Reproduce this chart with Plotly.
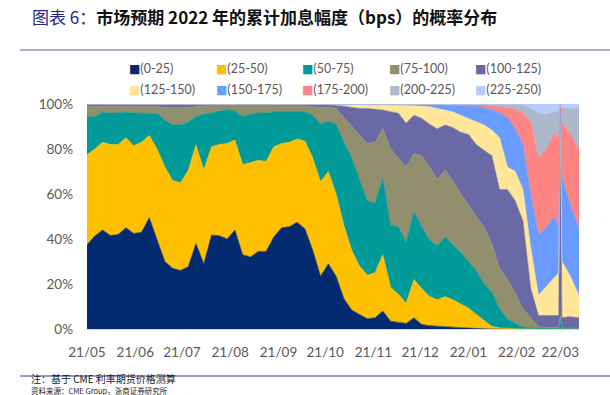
import numpy as np
import plotly.graph_objects as go

# ---------------- data ----------------
dates = [
    "2021-05-01", "2021-05-06", "2021-05-11", "2021-05-16", "2021-05-21", "2021-05-26",
    "2021-05-31", "2021-06-05", "2021-06-10", "2021-06-15", "2021-06-20", "2021-06-25",
    "2021-06-30", "2021-07-05", "2021-07-10", "2021-07-15", "2021-07-20", "2021-07-25",
    "2021-07-30", "2021-08-04", "2021-08-09", "2021-08-14", "2021-08-19", "2021-08-24",
    "2021-08-29", "2021-09-03", "2021-09-08", "2021-09-13", "2021-09-18", "2021-09-23",
    "2021-09-28", "2021-10-03", "2021-10-08", "2021-10-13", "2021-10-18", "2021-10-23",
    "2021-10-28", "2021-11-02", "2021-11-07", "2021-11-12", "2021-11-17", "2021-11-22",
    "2021-11-27", "2021-12-02", "2021-12-07", "2021-12-12", "2021-12-17", "2021-12-22",
    "2021-12-27", "2022-01-01", "2022-01-06", "2022-01-11", "2022-01-16", "2022-01-21",
    "2022-01-26", "2022-01-31", "2022-02-05", "2022-02-10", "2022-02-15", "2022-02-20",
    "2022-02-25", "2022-02-28", "2022-03-01", "2022-03-02", "2022-03-07", "2022-03-13",
]

buckets = ["(0-25)", "(25-50)", "(50-75)", "(75-100)", "(100-125)",
           "(125-150)", "(150-175)", "(175-200)", "(200-225)", "(225-250)"]

# cumulative probability (%) of a total hike up to the upper bound of each bucket
cum_0_25 = [
    37.5, 41.3, 44, 41.6, 42, 45, 42.5, 43, 49.5, 40, 30, 27,
    26, 27.7, 38, 29, 41.8, 41.5, 40, 44, 33, 32, 34.5, 34.5,
    41, 45, 45.5, 47.5, 44.5, 35, 23.5, 29, 23.5, 13.5, 8.5, 6.5,
    4.6, 5, 8, 3.5, 3, 2.5, 5, 2, 1.5, 1.2, 1, 0.8,
    0.6, 0.4, 0.2, 0.1, 0, 0, 0, 0, 0, 0, 0, 0,
    0, 0, 0, 0, 0, 0,
]
cum_25_50 = [
    77.5, 80, 83, 82, 82, 85, 81.5, 83, 86, 80, 72, 66,
    65, 70.4, 81.8, 70.7, 81, 82, 82.5, 84, 73, 74, 75, 74.5,
    81, 82.5, 83, 84.5, 83.5, 76, 65.5, 70, 60, 46, 35, 28,
    24, 25, 33, 18.5, 15.5, 11.5, 22, 18, 14.5, 13, 14.4, 13,
    11, 9.3, 6.5, 3.8, 1.2, 0.5, 0.2, 0.1, 0, 0, 0, 0,
    0, 0, 0, 0, 0, 0,
]
cum_50_75 = [
    94.5, 94.5, 96.5, 96, 96, 96.5, 96, 96, 96, 95.8, 92.9, 90.7,
    90.7, 92, 94.4, 95.5, 96, 97, 97.3, 97, 94.5, 95.5, 96, 96,
    96.5, 96.5, 96.5, 96.5, 96.5, 95, 91, 92.5, 91, 83, 76, 66.5,
    57, 56, 67, 46, 45.5, 38.5, 52, 45.5, 39.5, 37, 41, 37.5,
    34, 30, 26, 20, 16.5, 9, 4.5, 2.5, 1, 0.6, 0.4, 0.3,
    0.3, 0.3, 4, 0.3, 0.2, 0.2,
]
cum_75_100 = [
    99, 99, 99, 99, 99, 99, 99, 99, 99, 99, 98.5, 98.3,
    98.3, 98.5, 99, 99.2, 99.2, 99.2, 99.2, 99.2, 99.2, 99.2, 99.2, 99.2,
    99.2, 99.2, 99.2, 99.2, 99.2, 98.8, 98.3, 98.8, 98, 94, 90, 86,
    82.5, 83, 89, 80, 75.8, 72, 78, 77, 72, 66.5, 70.7, 66,
    60, 55.5, 50, 45.5, 38, 27, 22, 16, 9, 5, 1, 0.8,
    0.6, 0.6, 6, 0.5, 0.5, 0.5,
]
cum_100_125 = [
    100, 100, 100, 100, 100, 100, 100, 100, 100, 100, 100, 100,
    100, 100, 100, 100, 100, 100, 100, 100, 100, 100, 100, 100,
    100, 100, 100, 100, 100, 100, 100, 99.7, 99.5, 99, 98.5, 98,
    98, 97.8, 97.3, 96.6, 95.9, 91.5, 95, 93.6, 91, 89, 90.7, 89.5,
    87.5, 86.5, 82, 79.5, 77, 62, 62, 57, 48, 18, 6, 6,
    6, 6, 98, 5, 5.5, 5,
]
cum_125_150 = [
    100, 100, 100, 100, 100, 100, 100, 100, 100, 100, 100, 100,
    100, 100, 100, 100, 100, 100, 100, 100, 100, 100, 100, 100,
    100, 100, 100, 100, 100, 100, 100, 100, 99.8, 99.7, 99.7, 99.6,
    99.6, 99.5, 99.5, 99.5, 99.4, 99.3, 99.2, 99, 98.8, 98, 97.3, 96.5,
    95, 93.6, 92, 90.7, 88.4, 85, 72, 70, 62, 36, 15, 19,
    23, 25, 99, 30, 24, 15,
]
cum_150_175 = [
    100, 100, 100, 100, 100, 100, 100, 100, 100, 100, 100, 100,
    100, 100, 100, 100, 100, 100, 100, 100, 100, 100, 100, 100,
    100, 100, 100, 100, 100, 100, 100, 100, 100, 100, 100, 100,
    100, 100, 100, 100, 100, 100, 100, 99.9, 99.8, 99.7, 99.5, 99.5,
    99.3, 99, 99, 98.5, 97.5, 96, 94, 89, 82, 60, 42, 45,
    50, 45, 99.5, 68, 56, 45,
]
cum_175_200 = [
    100, 100, 100, 100, 100, 100, 100, 100, 100, 100, 100, 100,
    100, 100, 100, 100, 100, 100, 100, 100, 100, 100, 100, 100,
    100, 100, 100, 100, 100, 100, 100, 100, 100, 100, 100, 100,
    100, 100, 100, 100, 100, 100, 100, 100, 100, 100, 100, 100,
    100, 100, 100, 99.7, 99.3, 99, 98.5, 97.5, 96, 92, 76, 80,
    87, 85, 100, 92, 87, 80,
]
cum_200_225 = [
    100, 100, 100, 100, 100, 100, 100, 100, 100, 100, 100, 100,
    100, 100, 100, 100, 100, 100, 100, 100, 100, 100, 100, 100,
    100, 100, 100, 100, 100, 100, 100, 100, 100, 100, 100, 100,
    100, 100, 100, 100, 100, 100, 100, 100, 100, 100, 100, 100,
    100, 100, 100, 100, 100, 100, 100, 100, 99.7, 98, 96, 95.5,
    96.5, 97, 100, 98, 98, 98,
]
cum_225_250 = [100] * len(dates)

colors = ["#042A72", "#FFC000", "#009A99", "#918F6E", "#6869A5",
          "#FFE699", "#6A9BFF", "#FF8585", "#ADB8CA", "#B6CCFF"]

ytick_vals = [0, 20, 40, 60, 80, 100]
ytick_text = ["0%", "20%", "40%", "60%", "80%", "100%"]
title_tag = "图表 6："
title_text = "市场预期 2022 年的累计加息幅度（bps）的概率分布"
note_text = "注：基于 CME 利率期货价格测算"
source_text = "资料来源：CME Group，浙商证券研究所"

# ---------------- layout constants ----------------
W, H = 610, 395
ML, MR, MT, MB = 87, 31, 104, 66
PW, PH = W - ML - MR, H - MT - MB
LEG_X0, LEG_STEP, LEG_ROWS_Y = 127, 86.5, (68, 89)


def px2x(px):
    return (px - ML) / PW


def py2y(py):
    return (MT + PH - py) / PH


cum = np.array([cum_0_25, cum_25_50, cum_50_75, cum_75_100, cum_100_125,
                cum_125_150, cum_150_175, cum_175_200, cum_200_225, cum_225_250])
shares = np.diff(np.vstack([np.zeros(len(dates)), cum]), axis=0)

fig = go.Figure()
for name, col, s in zip(buckets, colors, shares):
    fig.add_trace(go.Scatter(
        x=dates, y=s, name=name, stackgroup="one", mode="lines",
        line=dict(width=0.6, color=col), fillcolor=col, showlegend=False,
        hovertemplate=name + ": %{y:.1f}%<extra></extra>",
    ))

fig.update_layout(
    width=W, height=H,
    margin=dict(l=ML, r=MR, t=MT, b=MB, pad=0, autoexpand=False),
    paper_bgcolor="white", plot_bgcolor="white",
    font=dict(family="Lato, 'Noto Sans', sans-serif", size=13, color="#595959"),
    showlegend=False,
    xaxis=dict(
        type="date", range=[dates[0], dates[-1]],
        tick0="2021-05-01", dtick="M1", tickformat="%y/%m",
        showgrid=False, zeroline=False, ticks="",
        showline=True, linecolor="#D9D9D9", linewidth=1,
        tickfont=dict(size=13.5, color="#595959"), ticklabelstandoff=11,
    ),
    yaxis=dict(
        range=[0, 100], tickmode="array", tickvals=ytick_vals, ticktext=ytick_text,
        showgrid=False, zeroline=False, ticks="", showline=False,
        tickfont=dict(size=13.5, color="#595959"), ticklabelstandoff=13,
    ),
    hovermode="x unified",
)

# legend (two rows of five): coloured square + bucket label
for i, (name, col) in enumerate(zip(buckets, colors)):
    fig.add_annotation(
        xref="paper", yref="paper",
        x=px2x(LEG_X0 + (i % 5) * LEG_STEP), y=py2y(LEG_ROWS_Y[i // 5]),
        xanchor="left", yanchor="middle", showarrow=False,
        text=f'<span style="color:{col};font-family:DejaVu Sans;font-size:12px">■</span>{name}',
        font=dict(family="Lato, 'Noto Sans', sans-serif", size=12.5, color="#595959"),
    )

cjk = "'Noto Sans CJK SC', sans-serif"
fig.add_annotation(
    xref="paper", yref="paper", x=px2x(30), y=py2y(17),
    xanchor="left", yanchor="middle", showarrow=False,
    text=f'<span style="color:#25258A">{title_tag}</span><b>{title_text}</b>',
    font=dict(family=cjk, size=17, color="#111111"),
)
fig.add_annotation(
    xref="paper", yref="paper", x=px2x(30), y=py2y(378.5),
    xanchor="left", yanchor="middle", showarrow=False, borderpad=0,
    text=note_text, font=dict(family=cjk, size=10, color="#222222"),
)
fig.add_annotation(
    xref="paper", yref="paper", x=px2x(30), y=py2y(390),
    xanchor="left", yanchor="middle", showarrow=False, borderpad=0,
    text=source_text, font=dict(family=cjk, size=7.5, color="#222222"),
)

fig.add_shape(type="line", xref="paper", yref="paper",
              x0=px2x(20), x1=px2x(610), y0=py2y(50), y1=py2y(50),
              line=dict(color="#AEAED0", width=2))
fig.add_shape(type="line", xref="paper", yref="paper",
              x0=px2x(20), x1=px2x(610), y0=py2y(376), y1=py2y(376),
              line=dict(color="#7A7AB8", width=1.5))

fig.write_html("out.html", config={"displayModeBar": False},
               post_script="document.body.style.margin='0px';")
